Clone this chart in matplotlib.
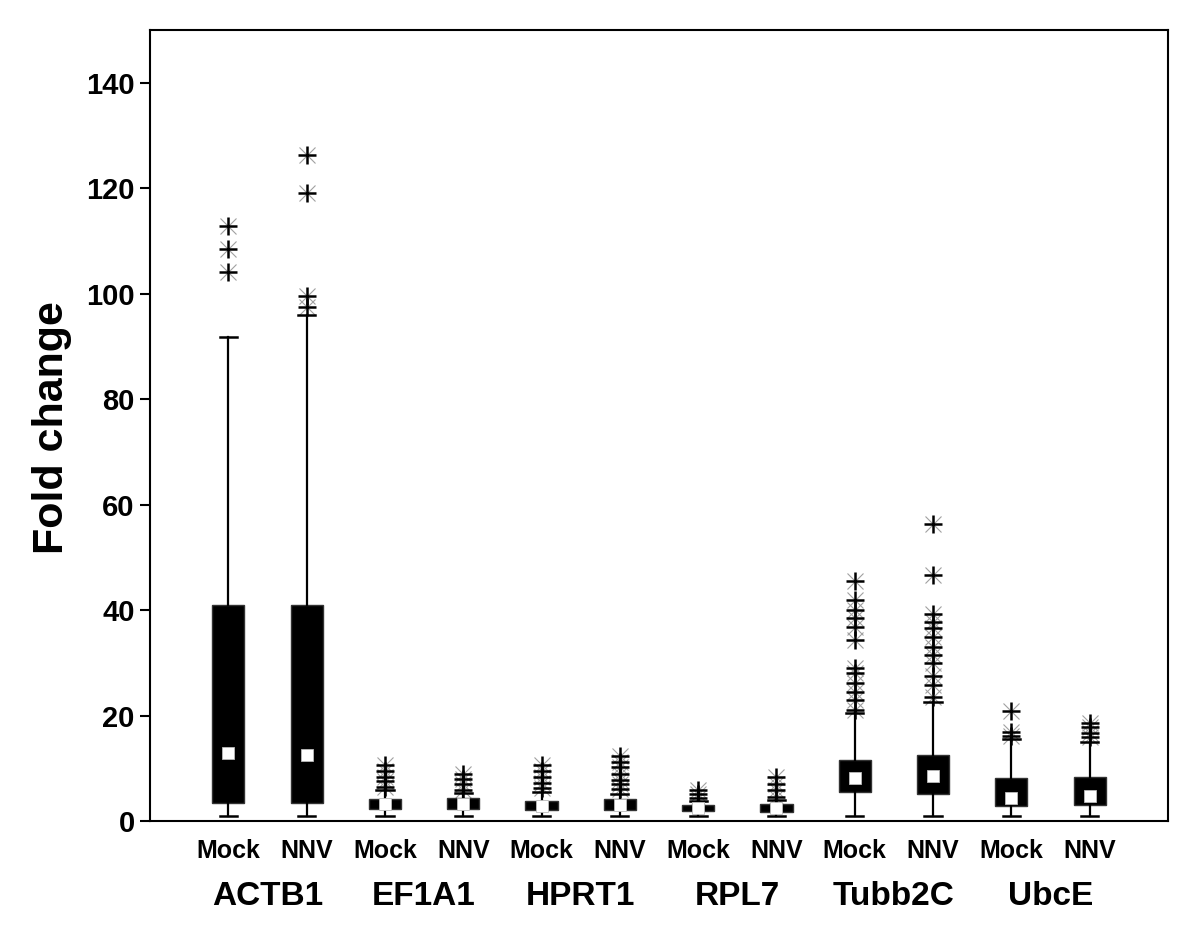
import numpy as np
import matplotlib
matplotlib.use('Agg')
import matplotlib.pyplot as plt
import matplotlib.transforms as mtransforms

plt.rcParams['font.family'] = ['Liberation Sans', 'DejaVu Sans']
plt.rcParams['font.weight'] = 'bold'

# genes and conditions
genes = ['ACTB1', 'EF1A1', 'HPRT1', 'RPL7', 'Tubb2C', 'UbcE']
conditions = ['Mock', 'NNV']

# box statistics, order: ACTB1 Mock, ACTB1 NNV, EF1A1 Mock, ...
q1 = [3.4, 3.5, 2.3, 2.3, 2.05, 2.05, 1.9, 1.75, 5.5, 5.1, 2.8, 3.0]
q3 = [41.0, 41.0, 4.2, 4.3, 3.8, 4.1, 3.1, 3.3, 11.6, 12.5, 8.2, 8.4]
medians = [12.9, 12.5, 3.3, 3.3, 2.9, 3.1, 2.5, 2.5, 8.2, 8.5, 4.4, 4.7]
whis_lo = [1.0, 1.0, 1.0, 1.0, 1.0, 1.0, 1.0, 1.0, 1.0, 1.0, 1.0, 1.0]
whis_hi = [91.8, 96.0, 5.8, 5.3, 5.5, 5.2, 3.8, 4.0, 20.4, 22.6, 15.5, 15.0]

fliers = [
    [104.2, 108.5, 112.8],
    [97.5, 99.5, 119.0, 126.3],
    [6.5, 7.6, 8.4, 9.5, 10.6],
    [5.9, 7.0, 8.0, 8.9],
    [6.2, 7.3, 8.4, 9.5, 10.6],
    [6.0, 7.0, 7.8, 9.0, 10.2, 11.2, 12.3],
    [4.3, 5.1, 5.9],
    [4.6, 5.9, 7.0, 8.3],
    [21.0, 23.0, 24.5, 26.2, 28.1, 29.0, 34.3, 36.8, 38.5, 40.0, 41.9, 45.5],
    [23.5, 25.8, 27.5, 30.0, 31.5, 33.0, 34.8, 36.6, 37.8, 39.2, 46.6, 56.3],
    [16.2, 16.9, 20.8],
    [16.0, 16.7, 17.8, 18.6],
]

labels = [c for g in genes for c in conditions]
positions = np.arange(1, len(labels) + 1)

stats = []
for i in range(len(labels)):
    stats.append({'label': labels[i], 'q1': q1[i], 'q3': q3[i], 'med': medians[i],
                  'mean': medians[i], 'whislo': whis_lo[i], 'whishi': whis_hi[i],
                  'fliers': fliers[i]})

fig = plt.figure(figsize=(12, 9.38), dpi=100)
ax = fig.add_axes([150 / 1200, 117 / 938, 1018 / 1200, 791 / 938])

# faint diagonal spikes behind the outlier crosses
for i, f in enumerate(fliers):
    ax.plot([positions[i]] * len(f), f, linestyle='none', marker='x',
            markersize=12, markeredgewidth=0.8, color='#a0a0a0', zorder=1.5)

ax.bxp(stats, positions=positions, widths=0.41, patch_artist=True,
       showmeans=True, capwidths=0.22,
       boxprops=dict(facecolor='black', edgecolor='#333333', linewidth=1),
       whiskerprops=dict(color='black', linewidth=1.6),
       capprops=dict(color='black', linewidth=1.8),
       medianprops=dict(visible=False),
       meanprops=dict(marker='s', markerfacecolor='white', markeredgecolor='#bbbbbb',
                      markersize=8, markeredgewidth=0.6),
       flierprops=dict(marker='+', markersize=13, markeredgewidth=1.8,
                       markeredgecolor='black'))

ax.set_xlim(0, 13)
ax.set_ylim(0, 150)
ax.set_yticks([0, 20, 40, 60, 80, 100, 120, 140])
ax.tick_params(axis='y', direction='out', length=7, width=1.5, labelsize=21, pad=4)
ax.set_xticks(positions)
ax.set_xticklabels(labels, fontsize=18, fontweight='bold')
ax.tick_params(axis='x', length=0, pad=13)
for lab in ax.get_yticklabels():
    lab.set_fontweight('bold')

for s in ax.spines.values():
    s.set_linewidth(1.5)

# gene names under each pair
trans = mtransforms.blended_transform_factory(ax.transData, ax.transAxes)
for k, g in enumerate(genes):
    ax.text(positions[2 * k] + 0.5, -0.096, g, transform=trans, ha='center',
            va='center', fontsize=24, fontweight='bold')

fig.text(52 / 1200, 1 - 428 / 938, 'Fold change', rotation=90, ha='center',
         va='center', fontsize=31, fontweight='bold')

fig.savefig('out.png', dpi=100)
